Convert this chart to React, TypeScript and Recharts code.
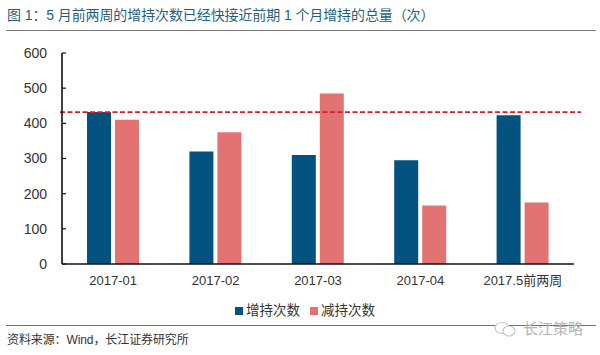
import { BarChart, Bar, XAxis, YAxis, Legend, ReferenceLine } from 'recharts'

// Chart values
const categories = ['2017-01', '2017-02', '2017-03', '2017-04', '2017.5前两周']
const increaseCounts = [432, 320, 310, 295, 423]
const decreaseCounts = [410, 375, 485, 166, 175]
const yTicks = [0, 100, 200, 300, 400, 500, 600]
const edgeTicks = [0, 1, 2, 3, 4, 5]
const referenceValue = 432

const BLUE = '#03527f'
const PINK = '#e37373'
const FONT = '"Liberation Sans", "Noto Sans CJK SC", sans-serif'

const data = categories.map((name, i) => ({
  name,
  increase: increaseCounts[i],
  decrease: decreaseCounts[i],
}))

// The dashed line runs a little past both ends of the plot area
function LongDashedLine(props: any) {
  const { x1, x2, y1 } = props
  return (
    <line
      x1={x1 - 2}
      x2={x2 + 7}
      y1={y1}
      y2={y1}
      stroke="#d0202f"
      strokeWidth={1.6}
      strokeDasharray="5 2.5"
    />
  )
}

function LegendRow({ payload }: any) {
  return (
    <div style={{ display: 'flex', fontFamily: FONT, fontSize: 13.5, color: '#333', lineHeight: '18px' }}>
      {(payload || []).map((item: any) => (
        <div key={item.value} style={{ display: 'flex', alignItems: 'center', marginRight: 10 }}>
          <span style={{ width: 8, height: 8, background: item.color, marginRight: 3 }} />
          {item.value}
        </div>
      ))}
    </div>
  )
}

export default function App() {
  return (
    <div style={{ position: 'absolute', left: 0, top: 0, width: 600, height: 355, background: '#fff', overflow: 'hidden' }}>
      {/* Title and rules */}
      <div
        style={{
          position: 'absolute',
          left: 7,
          top: 5,
          whiteSpace: 'nowrap',
          fontFamily: FONT,
          fontSize: 14,
          letterSpacing: -0.1,
          lineHeight: '20px',
          color: '#1f5f80',
        }}
      >
        图 1：5 月前两周的增持次数已经快接近前期 1 个月增持的总量（次）
      </div>
      <div style={{ position: 'absolute', left: 6, top: 30, width: 590, height: 1, background: '#7a7a7a' }} />

      <BarChart
        width={600}
        height={355}
        data={data}
        margin={{ top: 53, right: 26, bottom: 43, left: 22 }}
        style={{ position: 'absolute', left: 0, top: 0 }}
      >
        {/* Tick marks between categories, inside the plot */}
        <XAxis
          xAxisId="edges"
          type="number"
          domain={[0, 5]}
          ticks={edgeTicks}
          height={1}
          tick={false}
          tickSize={-4}
          axisLine={{ stroke: '#111', strokeWidth: 1.6 }}
          tickLine={{ stroke: '#111', strokeWidth: 1.2 }}
        />
        <XAxis
          xAxisId="labels"
          dataKey="name"
          height={29}
          axisLine={false}
          tickLine={false}
          interval={0}
          tickMargin={5}
          tick={{ fontSize: 13, fontFamily: FONT, fill: '#333' }}
        />
        <YAxis
          width={40}
          domain={[0, 600]}
          ticks={yTicks}
          interval={0}
          tickSize={-4}
          tickMargin={19}
          axisLine={{ stroke: '#111', strokeWidth: 1.6 }}
          tickLine={{ stroke: '#111', strokeWidth: 1.2 }}
          tick={{ fontSize: 14, fontFamily: FONT, fill: '#333' }}
        />
        <Bar xAxisId="labels" dataKey="increase" name="增持次数" fill={BLUE} barSize={24} isAnimationActive={false} />
        <Bar xAxisId="labels" dataKey="decrease" name="减持次数" fill={PINK} barSize={24} isAnimationActive={false} />
        <ReferenceLine xAxisId="labels" y={referenceValue} ifOverflow="visible" shape={LongDashedLine} />
        <Legend
          content={LegendRow}
          itemSorter={null}
          wrapperStyle={{ position: 'absolute', left: 235, top: 302, width: 200, height: 18, bottom: 'auto' }}
        />
      </BarChart>

      {/* Footer */}
      <div style={{ position: 'absolute', left: 6, top: 325, width: 590, height: 1, background: '#6f6f6f' }} />
      <div
        style={{
          position: 'absolute',
          left: 7,
          top: 331,
          whiteSpace: 'nowrap',
          fontFamily: FONT,
          fontSize: 12,
          letterSpacing: -0.1,
          lineHeight: '18px',
          color: '#333',
        }}
      >
        资料来源：Wind，长江证券研究所
      </div>
      {/* Watermark */}
      <svg width={26} height={18} style={{ position: 'absolute', left: 493, top: 320 }}>
        <ellipse cx={9} cy={8} rx={7} ry={5.5} fill="#fff" stroke="#c4c4c4" strokeWidth={1.2} />
        <ellipse cx={16} cy={11} rx={6} ry={5} fill="#fff" stroke="#c4c4c4" strokeWidth={1.2} />
      </svg>
      <div
        style={{
          position: 'absolute',
          left: 523,
          top: 320,
          whiteSpace: 'nowrap',
          fontFamily: FONT,
          fontSize: 15,
          lineHeight: '18px',
          color: '#b5b5b5',
        }}
      >
        长江策略
      </div>
    </div>
  )
}
